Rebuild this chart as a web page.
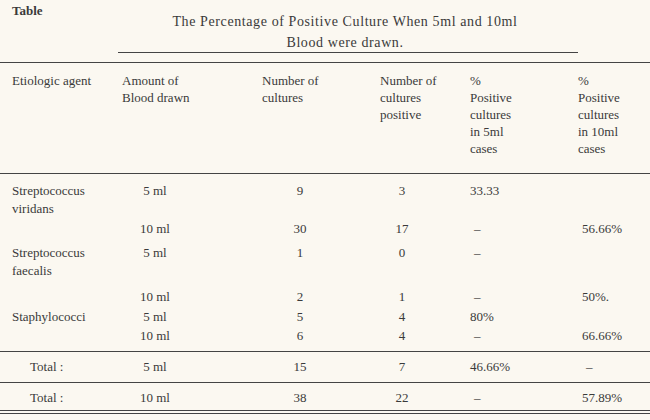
<!DOCTYPE html>
<html><head><meta charset="utf-8">
<script src="https://cdn.jsdelivr.net/npm/chart.js@4"></script>
<style>
body{margin:0;background:#fbf8f1;font-family:"Liberation Serif","Times New Roman",serif;color:#3a3a3a;font-size:13px;}
#wrap{position:relative;width:650px;height:420px;overflow:hidden}
.t{position:absolute;white-space:nowrap;line-height:15px}
.l{position:absolute;height:0;border-top:1px solid #444}
.c{transform:translateX(-50%)}
</style></head><body>
<div id="wrap"></div>
<script>
const titleLines=["The Percentage of Positive Culture When  5ml and 10ml","Blood were drawn."];
const headers=[["Etiologic agent"],["Amount of","Blood drawn"],["Number of","cultures"],["Number of","cultures","positive"],["%","Positive","cultures","in 5ml","cases"],["%","Positive","cultures","in 10ml","cases"]];
const agents=[["Streptococcus","viridans"],[],["Streptococcus","faecalis"],[],["Staphylococci"],[]];
const amounts=["5 ml","10 ml","5 ml","10 ml","5 ml","10 ml"];
const cultures=["9","30","1","2","5","6"];
const positives=["3","17","0","1","4","4"];
const pct5=["33.33","–","–","–","80%","–"];
const pct10=["","56.66%","","50%.","","66.66%"];
const totalLabels=["Total :","Total :"];
const totalAmounts=["5 ml","10 ml"];
const totalCultures=["15","38"];
const totalPositives=["7","22"];
const totalPct5=["46.66%","–"];
const totalPct10=["–","57.89%"];

const W=document.getElementById('wrap');
function txt(s,x,y,cls,style){const d=document.createElement('div');d.className='t '+(cls||'');d.textContent=s;d.style.left=x+'px';d.style.top=y+'px';if(style)Object.assign(d.style,style);W.appendChild(d);}
function line(x1,x2,y){const d=document.createElement('div');d.className='l';d.style.left=x1+'px';d.style.width=(x2-x1)+'px';d.style.top=y+'px';W.appendChild(d);}
txt("Table",12,3,'',{fontWeight:'bold',fontSize:'13px'});
txt(titleLines[0],345,14,'c',{fontSize:'14px',letterSpacing:'0.6px'});
txt(titleLines[1],345,35,'c',{fontSize:'14px',letterSpacing:'0.6px'});
line(118,578,52);
line(0,650,62);
const hx=[12,122,262,380,470,578];
headers.forEach((h,i)=>h.forEach((s,j)=>txt(s,hx[i],73+j*17)));
line(0,650,173);
const ry=[[183,201],[221],[245,263],[289],[309],[328]];
const amtX=155, culX=300, posX=402, p5X=470, p10X=582;
agents.forEach((a,i)=>{
  a.forEach((s,j)=>txt(s,12,ry[i][0]+j*18));
  const y=ry[i][0];
  txt(amounts[i],amtX,y,'c');
  txt(cultures[i],culX,y,'c');
  txt(positives[i],posX,y,'c');
  txt(pct5[i],pct5[i]==="–"?p5X+4:p5X,y);
  txt(pct10[i],p10X,y);
});
const ty=[359,390];
line(0,650,351);line(0,650,382);
totalLabels.forEach((s,i)=>{
  txt(s,30,ty[i]);txt(totalAmounts[i],amtX,ty[i],'c');txt(totalCultures[i],culX,ty[i],'c');
  txt(totalPositives[i],posX,ty[i],'c');txt(totalPct5[i],totalPct5[i]==="–"?p5X+4:p5X,ty[i]);
  txt(totalPct10[i],totalPct10[i]==="–"?p10X+4:p10X,ty[i]);
});
line(0,650,410);line(0,650,413);
</script>
</body></html>
